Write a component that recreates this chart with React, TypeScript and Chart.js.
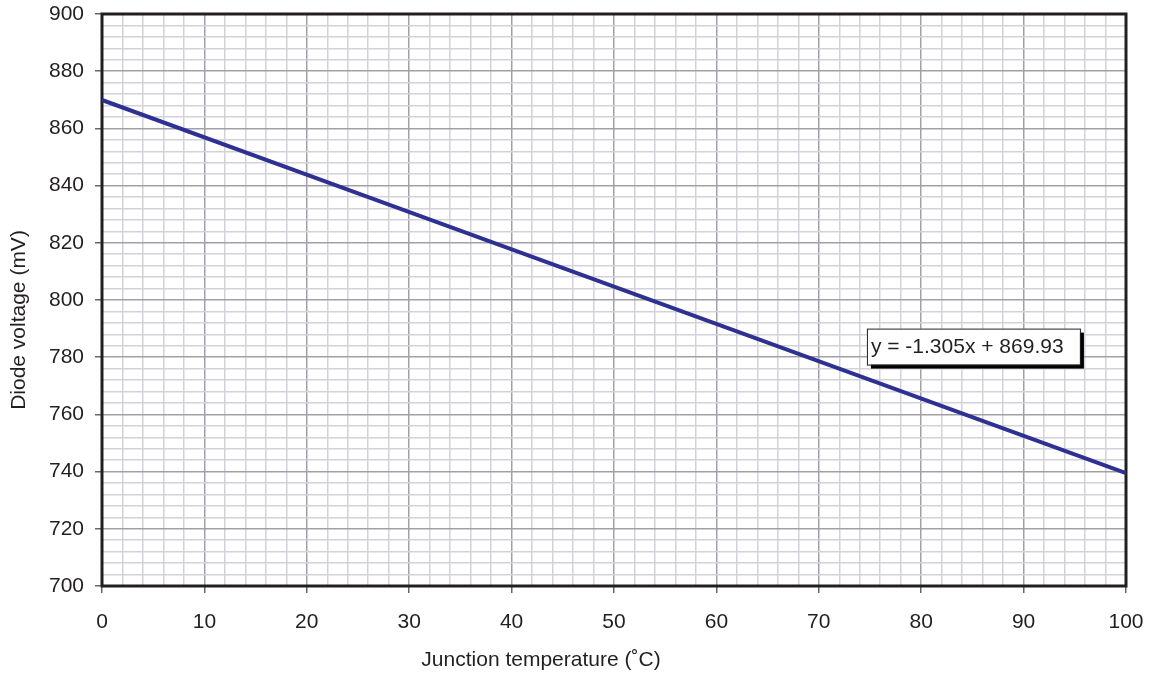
import React, { useEffect, useRef } from "react";
import { Chart, registerables } from "chart.js";

Chart.register(...registerables);

const temperatures = [0, 25, 100];
const voltages = [869.93, 837.3, 739.43];
const xTickStep = 2;
const yTickStep = 4;
const equationLabel = "y = -1.305x + 869.93";
const xTitle = "Junction temperature (˚C)";
const yTitle = "Diode voltage (mV)";

const FONT = "'Liberation Sans', Arial, sans-serif";
const TEXT = "#231f20";
const MAJOR = "#a0a1a8";
const MINOR = "#d2d3d9";

export default function App() {
  const ref = useRef<HTMLCanvasElement>(null);
  useEffect(() => {
    if (!ref.current) return;
    const overlay = {
      id: "overlay",
      beforeDatasetsDraw(chart: any) {
        const { ctx, chartArea } = chart;
        ctx.save();
        ctx.strokeStyle = TEXT;
        ctx.lineWidth = 3;
        ctx.strokeRect(chartArea.left, chartArea.top, chartArea.right - chartArea.left, chartArea.bottom - chartArea.top);
        ctx.restore();
      },
      afterDatasetsDraw(chart: any) {
        const { ctx } = chart;
        const xs = chart.scales.x;
        const ys = chart.scales.y;
        // annotation box
        const bx = xs.getPixelForValue(74.7);
        const by = ys.getPixelForValue(790);
        const bw = 213;
        const bh = 36;
        ctx.save();
        ctx.fillStyle = "#000";
        ctx.fillRect(bx + 4, by + 4, bw, bh);
        ctx.fillStyle = "#fff";
        ctx.fillRect(bx, by, bw, bh);
        ctx.strokeStyle = TEXT;
        ctx.lineWidth = 1;
        ctx.strokeRect(bx + 0.5, by + 0.5, bw, bh);
        ctx.fillStyle = TEXT;
        ctx.font = `21px ${FONT}`;
        ctx.textBaseline = "middle";
        ctx.textAlign = "left";
        ctx.fillText(equationLabel, bx + 4, by + bh / 2 + 1);
        // axis titles
        ctx.textAlign = "center";
        ctx.fillText(xTitle, 541, 660);
        ctx.translate(19, 320);
        ctx.rotate(-Math.PI / 2);
        ctx.fillText(yTitle, 0, 0);
        ctx.restore();
      },
    };
    const chart = new Chart(ref.current, {
      type: "line",
      data: {
        datasets: [
          {
            data: temperatures.map((t, i) => ({ x: t, y: voltages[i] })),
            borderColor: "#2e3192",
            borderWidth: 4,
            pointRadius: 0,
            tension: 0,
          },
        ],
      },
      options: {
        animation: false,
        responsive: false,
        layout: { padding: { top: 14, right: 32, left: 0, bottom: 0 } },
        plugins: { legend: { display: false }, tooltip: { enabled: false } },
        scales: {
          x: {
            type: "linear",
            min: 0,
            max: 100,
            afterFit: (s: any) => {
              s.height = 95;
              s.paddingLeft = 0;
              s.paddingRight = 0;
            },
            border: { display: false },
            grid: {
              color: (c: any) => (c.tick && c.tick.value % 10 === 0 ? MAJOR : MINOR),
              lineWidth: 1.5,
              tickColor: (c: any) => (c.tick && c.tick.value % 10 === 0 ? "#666" : "rgba(0,0,0,0)"),
              tickLength: 7,
            },
            ticks: {
              stepSize: xTickStep,
              autoSkip: false,
              maxRotation: 0,
              padding: 17,
              color: TEXT,
              font: { family: FONT, size: 21 },
              callback: (v: any) => (Number(v) % 10 === 0 ? String(v) : ""),
            },
          },
          y: {
            type: "linear",
            min: 700,
            max: 900,
            afterFit: (s: any) => {
              s.width = 102;
              s.paddingTop = 0;
              s.paddingBottom = 0;
            },
            border: { display: false },
            grid: {
              color: (c: any) => (c.tick && c.tick.value % 20 === 0 ? MAJOR : MINOR),
              lineWidth: 1.5,
              tickColor: (c: any) => (c.tick && c.tick.value % 20 === 0 ? "#666" : "rgba(0,0,0,0)"),
              tickLength: 7,
            },
            ticks: {
              stepSize: yTickStep,
              autoSkip: false,
              padding: 11,
              color: TEXT,
              font: { family: FONT, size: 21 },
              callback: (v: any) => (Number(v) % 20 === 0 ? String(v) : ""),
            },
          },
        },
      },
      plugins: [overlay],
    });
    return () => chart.destroy();
  }, []);
  return (
    <div style={{ position: "absolute", left: 0, top: 0, width: 1158, height: 681, background: "#fff" }}>
      <canvas ref={ref} width={1158} height={681} style={{ display: "block" }} />
    </div>
  );
}
